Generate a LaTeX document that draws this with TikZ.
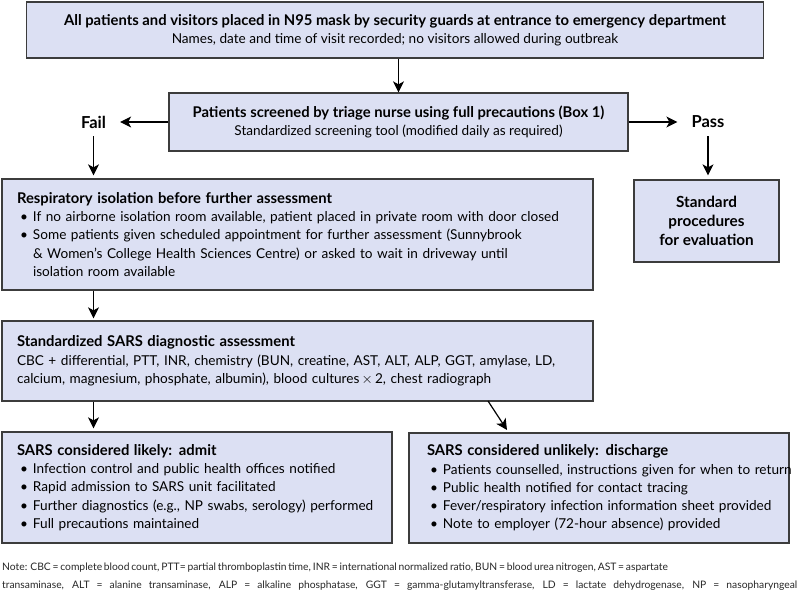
\documentclass[tikz,border=0pt]{standalone}
\usepackage{fontspec}
\setmainfont{Lato}
\usetikzlibrary{arrows.meta}
\definecolor{boxfill}{RGB}{220,224,243}
\definecolor{boxline}{RGB}{60,60,60}
\definecolor{notegray}{RGB}{40,40,40}
\newcommand{\bul}{\makebox[16pt][l]{\hspace{3pt}\textbullet}}
\newcommand{\cont}{\hspace*{16pt}}
\newcommand{\oneline}[1]{\mbox{#1}}
\newcommand{\wline}[2]{\makebox[#1pt][s]{\spaceskip=0pt\xspaceskip=0pt #2}}
\newcommand{\ttl}[1]{\mbox{\bfseries\fontsize{14.8}{18.3}\selectfont #1}}
\hbadness=10000 \hfuzz=1000pt
\begin{document}
\begin{tikzpicture}[x=1pt,y=-1pt,
  box/.style={draw=boxline,fill=boxfill,line width=1.3pt,inner sep=0pt,
    font=\fontsize{13.6}{18.3}\selectfont},
  lbl/.style={font=\bfseries\fontsize{16.5}{18}\selectfont,inner xsep=14pt,inner ysep=8pt},
  arr/.style={line width=1.2pt,-{Stealth[length=11pt,width=11pt,inset=3pt]}}]
\useasboundingbox (0,0) rectangle (800,593);
\fill[white] (0,0) rectangle (800,593);

\node[box,minimum width=737pt,minimum height=56pt,align=center] (b1) at (395,30)
 {\ttl{All patients and visitors placed in N95 mask by security guards at entrance to emergency department}\\
  \oneline{Names, date and time of visit recorded; no visitors allowed during outbreak}};

\node[box,minimum width=459pt,minimum height=58pt,align=center] (b2) at (398.5,122)
 {\ttl{Patients screened by triage nurse using full precautions (Box 1)}\\
  \oneline{Standardized screening tool (modified daily as required)}};

\node[lbl] (fail) at (93.5,122) {Fail};
\node[lbl] (pass) at (708,122) {Pass};

\node[box,minimum width=591pt,minimum height=111pt,text width=561pt,align=left] (b3) at (297.5,234.5)
 {\ttl{Respiratory isolation before further assessment}\\
  \bul\oneline{If no airborne isolation room available, patient placed in private room with door closed}\\
  \bul\oneline{Some patients given scheduled appointment for further assessment (Sunnybrook}\\
  \cont\oneline{\& Women’s College Health Sciences Centre) or asked to wait in driveway until}\\
  \cont\oneline{isolation room available}};

\node[box,minimum width=145pt,minimum height=82pt,align=center,
  font=\bfseries\fontsize{15.3}{19.3}\selectfont] (b4) at (706.5,221)
 {Standard\\procedures\\for evaluation};

\node[box,minimum width=591pt,minimum height=80pt,text width=561pt,align=left] (b5) at (297.5,361)
 {\ttl{Standardized SARS diagnostic assessment}\\
  \oneline{CBC + differential, PTT, INR, chemistry (BUN, creatine, AST, ALT, ALP, GGT, amylase, LD,}\\
  \oneline{calcium, magnesium, phosphate, albumin), blood cultures\,$\times$\,2, chest radiograph}};

\node[box,minimum width=390pt,minimum height=111pt,text width=360pt,align=left] (b6) at (197,487.5)
 {\ttl{SARS considered likely: admit}\\
  \bul\oneline{Infection control and public health offices notified}\\
  \bul\oneline{Rapid admission to SARS unit facilitated}\\
  \bul\oneline{Further diagnostics (e.g., NP swabs, serology) performed}\\
  \bul\oneline{Full precautions maintained}};

\node[box,minimum width=380pt,minimum height=110pt,text width=344pt,align=left] (b7) at (599,488)
 {\ttl{SARS considered unlikely: discharge}\\
  \bul\oneline{Patients counselled, instructions given for when to return}\\
  \bul\oneline{Public health notified for contact tracing}\\
  \bul\oneline{Fever/respiratory infection information sheet provided}\\
  \bul\oneline{Note to employer (72-hour absence) provided}};

\node[anchor=north west,inner sep=0pt,align=left,text=notegray,
  font=\fontsize{10.3}{18}\selectfont] (note) at (2,563)
 {\wline{593}{Note: CBC = complete blood count, PTT= partial thromboplastin time, INR = international normalized ratio, BUN = blood urea nitrogen, AST = aspartate}\\
  \wline{795}{transaminase, ALT = alanine transaminase, ALP = alkaline phosphatase, GGT = gamma-glutamyltransferase, LD = lactate dehydrogenase, NP = nasopharyngeal}};

\coordinate (d1) at (488,401);
\coordinate (d2) at (507,430);

\draw[arr] (b1.south -| b2.north) -- (b2.north);
\draw[arr] (b2.west) -- (fail.east);
\draw[arr] (b2.east) -- (pass.west);
\draw[arr,shorten >=3pt] (fail.south) -- (fail.south |- b3.north);
\draw[arr,shorten >=4pt] (pass.south) -- (pass.south |- b4.north);
\draw[arr,shorten >=2pt] (b3.south -| fail) -- (b5.north -| fail);
\draw[arr,shorten >=3pt] (b5.south -| fail) -- (b6.north -| fail);
\draw[arr] (d1) -- (d2);
\end{tikzpicture}
\end{document}
